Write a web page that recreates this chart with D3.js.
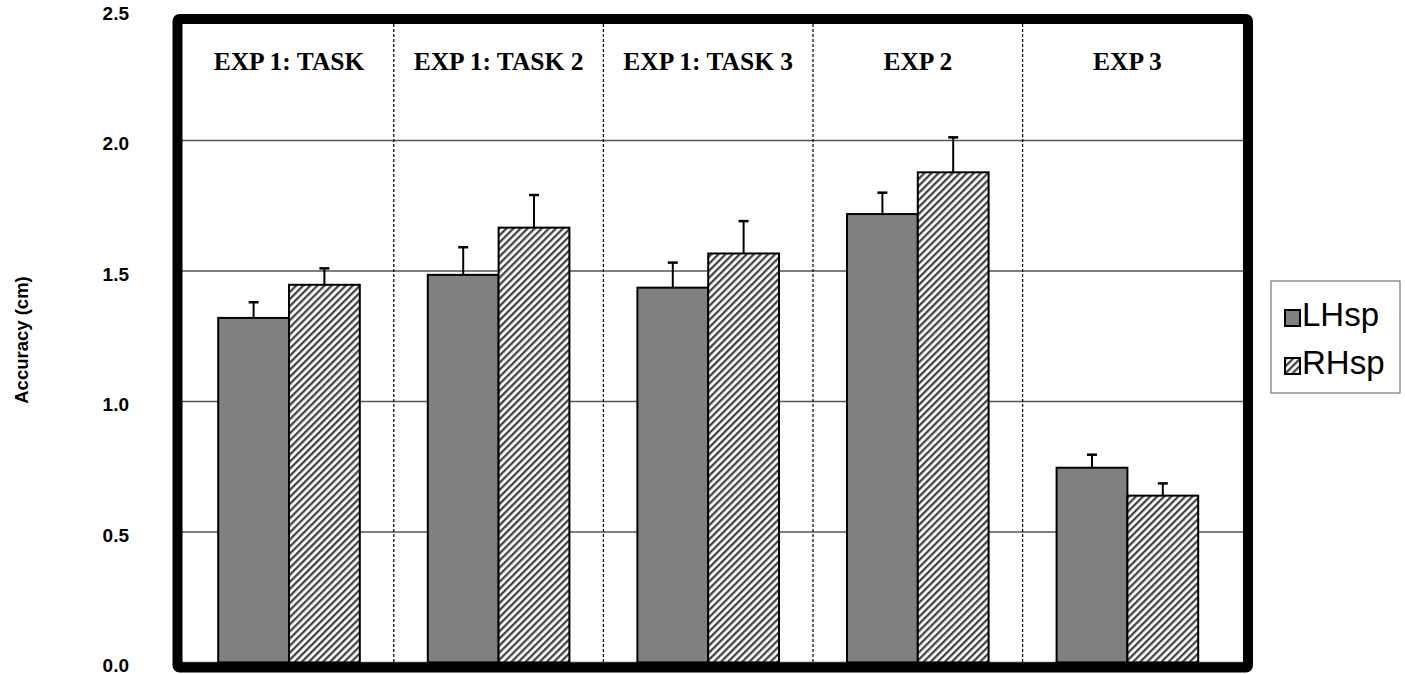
<!DOCTYPE html>
<html>
<head>
<meta charset="utf-8">
<script src="https://cdn.jsdelivr.net/npm/d3@7"></script>
<style>
  html, body { margin: 0; padding: 0; background: #fff; }
  svg { display: block; }
</style>
</head>
<body>
<svg id="chart" width="1405" height="674"></svg>
<script>
// Accuracy by experiment / task, split by hemispace
const categories = ["EXP 1: TASK", "EXP 1: TASK 2", "EXP 1: TASK 3", "EXP 2", "EXP 3"];
const seriesNames = ["LHsp", "RHsp"];
const lhspMeans = [1.32, 1.485, 1.436, 1.718, 0.746];
const lhspErrors = [0.06, 0.106, 0.096, 0.082, 0.05];
const rhspMeans = [1.447, 1.666, 1.567, 1.878, 0.639];
const rhspErrors = [0.063, 0.125, 0.124, 0.134, 0.047];
const yTicks = [0, 0.5, 1.0, 1.5, 2.0, 2.5];
const yTitle = "Accuracy (cm)";

const svg = d3.select("#chart");

// plot frame (inner edges of the heavy border)
const inner = { left: 182, right: 1243, top: 24, bottom: 664 };

const y = d3.scaleLinear().domain([0, 2.5]).range([662.4, 10]);
const x = d3.scaleBand().domain(categories).range([184.2, 1232.2]).padding(0);
const x1 = d3.scaleBand().domain(seriesNames).range([34, x.bandwidth() - 34]).padding(0);

const rows = categories.map((c, i) => ({
  cat: c,
  bars: [
    { s: "LHsp", v: lhspMeans[i], e: lhspErrors[i] },
    { s: "RHsp", v: rhspMeans[i], e: rhspErrors[i] }
  ]
}));

// hatch pattern for RHsp
const defs = svg.append("defs");
const pat = defs.append("pattern")
  .attr("id", "hatch")
  .attr("patternUnits", "userSpaceOnUse")
  .attr("width", 5).attr("height", 5)
  .attr("patternTransform", "rotate(45)");
pat.append("rect").attr("width", 5).attr("height", 5).attr("fill", "#fff");
pat.append("line").attr("x1", 1.2).attr("x2", 1.2).attr("y1", 0).attr("y2", 5)
  .attr("stroke", "#3a3a3a").attr("stroke-width", 2.2);

const fillFor = s => s === "LHsp" ? "#808080" : "url(#hatch)";

// horizontal gridlines
svg.append("g")
  .selectAll("line")
  .data(yTicks.filter(t => t < 2.5))
  .join("line")
  .attr("x1", inner.left).attr("x2", inner.right)
  .attr("y1", d => y(d)).attr("y2", d => y(d))
  .attr("stroke", "#555").attr("stroke-width", 1.5);

// dashed separators between groups
svg.append("g")
  .selectAll("line")
  .data(categories.slice(1))
  .join("line")
  .attr("x1", d => x(d)).attr("x2", d => x(d))
  .attr("y1", inner.top).attr("y2", inner.bottom)
  .attr("stroke", "#000").attr("stroke-width", 1.2)
  .attr("stroke-dasharray", "3,2");

// bars
const groups = svg.append("g").selectAll("g")
  .data(rows)
  .join("g")
  .attr("transform", d => `translate(${x(d.cat)},0)`);

// error bars (upper only)
groups.selectAll("g.err")
  .data(d => d.bars)
  .join("g").attr("class", "err")
  .each(function(d) {
    const g = d3.select(this);
    const cx = x1(d.s) + x1.bandwidth() / 2;
    g.append("line").attr("x1", cx).attr("x2", cx)
      .attr("y1", y(d.v)).attr("y2", y(d.v + d.e))
      .attr("stroke", "#000").attr("stroke-width", 2);
    g.append("line").attr("x1", cx - 5).attr("x2", cx + 5)
      .attr("y1", y(d.v + d.e)).attr("y2", y(d.v + d.e))
      .attr("stroke", "#000").attr("stroke-width", 2.5);
  });

groups.selectAll("rect")
  .data(d => d.bars)
  .join("rect")
  .attr("x", d => x1(d.s))
  .attr("width", x1.bandwidth())
  .attr("y", d => y(d.v))
  .attr("height", d => y(0) - y(d.v))
  .attr("fill", d => fillFor(d.s))
  .attr("stroke", "#000")
  .attr("stroke-width", 2);

// group headers
svg.append("g")
  .selectAll("text")
  .data(categories)
  .join("text")
  .attr("x", d => x(d) + x.bandwidth() / 2)
  .attr("y", 70)
  .attr("text-anchor", "middle")
  .attr("font-family", "'Liberation Serif', 'Times New Roman', serif")
  .attr("font-weight", "bold")
  .attr("font-size", 25.5)
  .attr("fill", "#000")
  .text(d => d);

// heavy frame
svg.append("rect")
  .attr("x", 177.5).attr("y", 19)
  .attr("width", 1248 - 177.5).attr("height", 667.5 - 19)
  .attr("fill", "none")
  .attr("stroke", "#000")
  .attr("stroke-width", 10)
  .attr("rx", 2);

// y axis labels
const yAxis = d3.axisLeft(y)
  .tickValues(yTicks)
  .tickFormat(d3.format(".1f"))
  .tickSize(0)
  .tickPadding(0);
const ay = svg.append("g")
  .attr("transform", "translate(129,3)")
  .call(yAxis);
ay.select(".domain").remove();
ay.selectAll("text")
  .attr("font-family", "'Liberation Sans', Arial, sans-serif")
  .attr("font-weight", "bold")
  .attr("font-size", 19)
  .attr("fill", "#000");

// y title
svg.append("text")
  .attr("transform", "translate(28,340) rotate(-90)")
  .attr("text-anchor", "middle")
  .attr("font-family", "'Liberation Sans', Arial, sans-serif")
  .attr("font-weight", "bold")
  .attr("font-size", 18.5)
  .attr("fill", "#000")
  .text(yTitle);

// legend
const lg = svg.append("g");
lg.append("rect")
  .attr("x", 1271).attr("y", 281)
  .attr("width", 129).attr("height", 112)
  .attr("fill", "#fff")
  .attr("stroke", "#777")
  .attr("stroke-width", 1.2);
const items = lg.selectAll("g.item")
  .data(seriesNames)
  .join("g").attr("class", "item")
  .attr("transform", (d, i) => `translate(1285,${310 + i * 48})`);
items.append("rect")
  .attr("width", 15).attr("height", 16)
  .attr("fill", d => fillFor(d))
  .attr("stroke", "#000")
  .attr("stroke-width", 2);
items.append("text")
  .attr("x", 17).attr("y", 16)
  .attr("font-family", "'Liberation Sans', Arial, sans-serif")
  .attr("font-size", 33)
  .attr("fill", "#000")
  .text(d => d);
</script>
</body>
</html>
